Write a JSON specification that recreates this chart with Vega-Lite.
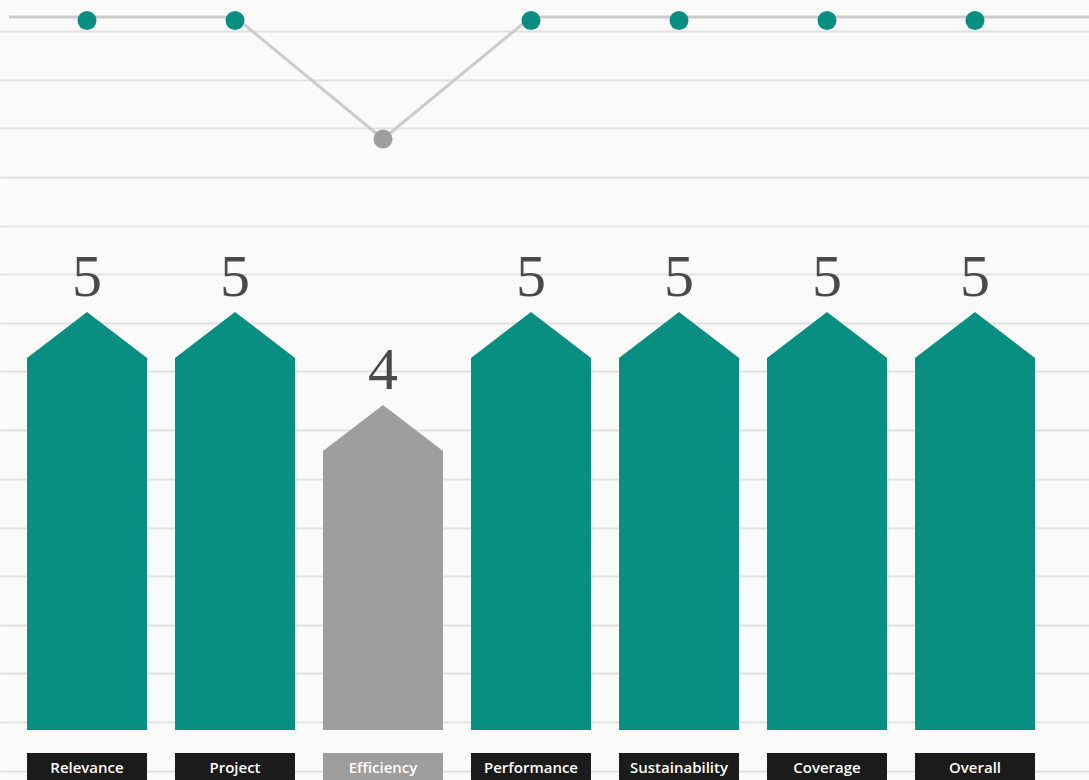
{
  "$schema": "https://vega.github.io/schema/vega-lite/v6.json",
  "width": 1089,
  "height": 780,
  "autosize": {"type": "none"},
  "padding": 0,
  "background": "#fafafa",
  "config": {"view": {"stroke": null}, "scale": {"continuousPadding": 0}},
  "datasets": {
    "scores": [
      {"category": "Relevance", "idx": 1, "score": 5},
      {"category": "Project", "idx": 2, "score": 5},
      {"category": "Efficiency", "idx": 3, "score": 4},
      {"category": "Performance", "idx": 4, "score": 5},
      {"category": "Sustainability", "idx": 5, "score": 5},
      {"category": "Coverage", "idx": 6, "score": 5},
      {"category": "Overall", "idx": 7, "score": 5}
    ],
    "trend": [
      {"idx": 0.473, "score": 5},
      {"idx": 1, "score": 5},
      {"idx": 2, "score": 5},
      {"idx": 3, "score": 4},
      {"idx": 4, "score": 5},
      {"idx": 5, "score": 5},
      {"idx": 6, "score": 5},
      {"idx": 7, "score": 5},
      {"idx": 7.7703, "score": 5}
    ]
  },
  "layer": [
    {
      "data": {"name": "scores"},
      "layer": [
        {
          "mark": {"type": "bar", "width": 120},
          "encoding": {
            "x": {"field": "idx", "type": "quantitative", "axis": null, "scale": {"domain": [0.41216, 7.77027], "nice": false, "zero": false, "padding": 0}},
            "y": {
              "field": "score", "type": "quantitative",
              "scale": {"domain": [0.46237, 8.84946], "nice": false, "zero": false, "padding": 0},
              "axis": {
                "orient": "left", "grid": true, "labels": false, "ticks": false, "domain": false, "title": null,
                "gridColor": "#e1e1e1", "gridWidth": 2,
                "values": [8.5161, 7.9892, 7.4731, 6.9462, 6.4194, 5.9032, 5.3763, 4.8602, 4.2258, 3.6989, 3.172, 2.6559, 2.129, 1.6129, 1.086, 0.5591]
              }
            },
            "y2": {"datum": 1},
            "color": {"condition": {"test": "datum.category === 'Efficiency'", "value": "#9e9e9e"}, "value": "#098f82"}
          }
        },
        {
          "mark": {"type": "point", "filled": true, "opacity": 1, "strokeWidth": 0, "shape": "M-1,0.03L-1,0L0,-0.767L1,0L1,0.03Z", "size": 14400},
          "encoding": {
            "x": {"field": "idx", "type": "quantitative", "axis": null},
            "y": {"field": "score", "type": "quantitative"},
            "color": {"condition": {"test": "datum.category === 'Efficiency'", "value": "#9e9e9e"}, "value": "#098f82"}
          }
        },
        {
          "mark": {"type": "text", "font": "Liberation Serif", "fontSize": 60, "baseline": "alphabetic", "align": "center", "dy": -62, "color": "#4a4a4a"},
          "encoding": {
            "x": {"field": "idx", "type": "quantitative", "axis": null},
            "y": {"field": "score", "type": "quantitative"},
            "text": {"field": "score", "type": "quantitative"}
          }
        },
        {
          "mark": {"type": "bar", "width": 120},
          "encoding": {
            "x": {"field": "idx", "type": "quantitative", "axis": null},
            "y": {"datum": 0.7527},
            "y2": {"datum": 0.46237},
            "color": {"condition": {"test": "datum.category === 'Efficiency'", "value": "#9e9e9e"}, "value": "#1b1b1b"}
          }
        },
        {
          "mark": {"type": "text", "font": "Open Sans", "fontWeight": 600, "fontSize": 15, "color": "#ffffff", "baseline": "middle", "align": "center"},
          "encoding": {
            "x": {"field": "idx", "type": "quantitative", "axis": null},
            "y": {"datum": 0.591},
            "text": {"field": "category", "type": "nominal"}
          }
        }
      ]
    },
    {
      "data": {"name": "trend"},
      "mark": {"type": "line", "color": "#cccccc", "strokeWidth": 3},
      "encoding": {
        "x": {"field": "idx", "type": "quantitative", "axis": null},
        "y": {"field": "score", "type": "quantitative", "axis": null, "scale": {"domain": [-1.2541, 5.1393], "nice": false, "zero": false, "padding": 0}}
      }
    },
    {
      "data": {"name": "scores"},
      "mark": {"type": "point", "filled": true, "opacity": 1, "strokeWidth": 0, "shape": "circle", "size": 360},
      "encoding": {
        "x": {"field": "idx", "type": "quantitative", "axis": null},
        "y": {"field": "score", "type": "quantitative", "axis": null, "scale": {"domain": [-1.4093, 5.173], "nice": false, "zero": false, "padding": 0}},
        "color": {"condition": {"test": "datum.category === 'Efficiency'", "value": "#9e9e9e"}, "value": "#098f82"}
      }
    }
  ],
  "resolve": {"scale": {"y": "independent"}}
}
